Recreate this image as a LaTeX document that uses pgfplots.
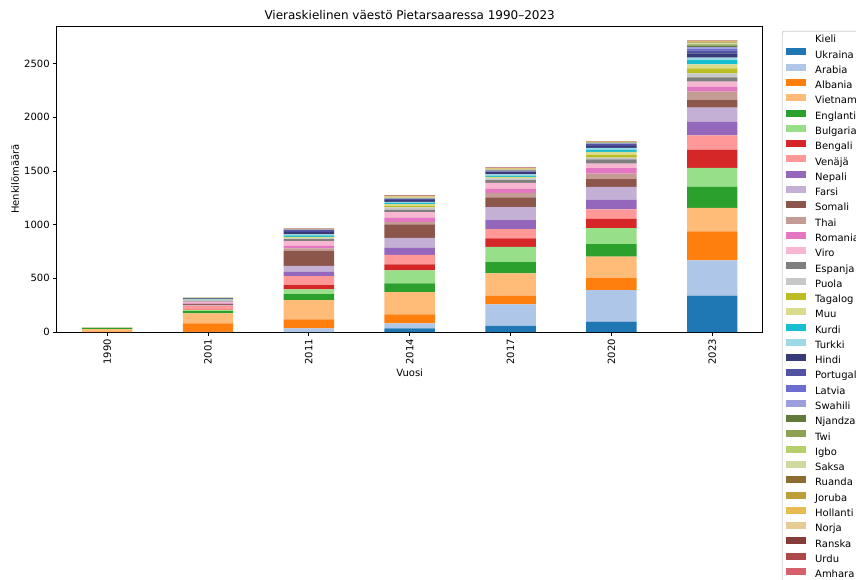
\documentclass[border=0pt]{standalone}
\usepackage{fontspec}
\setmainfont{DejaVu Sans}
\usepackage{pgfplots}
\usepackage{pgfplotstable}
\pgfplotsset{compat=1.18}

\definecolor{cUkraina}{HTML}{1f77b4}
\definecolor{cArabia}{HTML}{aec7e8}
\definecolor{cAlbania}{HTML}{ff7f0e}
\definecolor{cVietnam}{HTML}{ffbb78}
\definecolor{cEnglanti}{HTML}{2ca02c}
\definecolor{cBulgaria}{HTML}{98df8a}
\definecolor{cBengali}{HTML}{d62728}
\definecolor{cVenaja}{HTML}{ff9896}
\definecolor{cNepali}{HTML}{9467bd}
\definecolor{cFarsi}{HTML}{c5b0d5}
\definecolor{cSomali}{HTML}{8c564b}
\definecolor{cThai}{HTML}{c49c94}
\definecolor{cRomania}{HTML}{e377c2}
\definecolor{cViro}{HTML}{f7b6d2}
\definecolor{cEspanja}{HTML}{7f7f7f}
\definecolor{cPuola}{HTML}{c7c7c7}
\definecolor{cTagalog}{HTML}{bcbd22}
\definecolor{cMuu}{HTML}{dbdb8d}
\definecolor{cKurdi}{HTML}{17becf}
\definecolor{cTurkki}{HTML}{9edae5}
\definecolor{cHindi}{HTML}{393b79}
\definecolor{cPortugal}{HTML}{5254a3}
\definecolor{cLatvia}{HTML}{6b6ecf}
\definecolor{cSwahili}{HTML}{9c9ede}
\definecolor{cNjandza}{HTML}{637939}
\definecolor{cTwi}{HTML}{8ca252}
\definecolor{cIgbo}{HTML}{b5cf6b}
\definecolor{cSaksa}{HTML}{cedb9c}
\definecolor{cRuanda}{HTML}{8c6d31}
\definecolor{cJoruba}{HTML}{bd9e39}
\definecolor{cHollanti}{HTML}{e7ba52}
\definecolor{cNorja}{HTML}{e7cb94}
\definecolor{cRanska}{HTML}{843c39}
\definecolor{cUrdu}{HTML}{ad494a}
\definecolor{cAmhara}{HTML}{d6616b}
\definecolor{legframe}{HTML}{cccccc}

\pgfplotstableread{
x Ukraina Arabia Albania Vietnam Englanti Bulgaria Bengali Venaja Nepali Farsi Somali Thai Romania Viro Espanja Puola Tagalog Muu Kurdi Turkki Hindi Portugal Latvia Swahili Njandza Twi Igbo Saksa Ruanda Joruba Hollanti Norja Ranska Urdu Amhara
0 0 0 2 26 10 3 0 2 0 0 0 0 0 0 0 0 0 0 0 0 0 0 0 0 0 0 0 0 0 0 0 0 0 0 0
1 0 2 79 93 21 8 4 38 2 6 7 5 8 9 8 6 1 5 2 3 6 5 0 0 0 0 0 2 0 0 1 2 0 0 0
2 0 34 84 180 55 44 40 84 40 56 136 25 25 44 18 6 8 8 12 10 24 16 2 2 0 1 0 3 1 0 1 5 2 1 0
3 34 47 84 207 81 121 56 89 65 93 125 24 37 53 22 22 15 16 12 9 16 9 3 3 2 2 2 4 3 2 3 6 3 2 2
4 56 202 80 208 105 143 77 87 84 121 90 43 37 56 25 16 8 8 10 13 19 8 4 4 3 2 2 3 3 2 3 4 3 2 2
5 96 295 111 199 118 148 87 87 93 118 71 53 50 43 38 18 22 30 22 16 18 16 6 4 3 2 2 2 1 1 1 2 2 1 1
6 340 327 270 219 199 173 171 133 127 131 74 74 47 46 41 37 47 37 40 22 41 28 16 14 14 10 8 10 4 5 4 4 2 2 2
}\data

\begin{document}
\begin{tikzpicture}
\begin{axis}[
  at={(0pt,0pt)}, anchor=south west,
  scale only axis, width=706pt, height=306pt,
  ybar stacked, bar width=0.5,
  xmin=-0.5, xmax=6.5, ymin=0, ymax=2850,
  xtick={0,1,2,3,4,5,6},
  xticklabels={1990,2001,2011,2014,2017,2020,2023},
  x tick label style={rotate=90, anchor=east},
  ytick={0,500,1000,1500,2000,2500},
  tick pos=left, tick align=outside, major tick length=3.5pt,
  tick style={black, line width=0.8pt},
  axis line style={black, line width=0.8pt},
  ticklabel style={font=\fontsize{10}{12}\selectfont},
  /pgf/number format/assume math mode=true,
  /pgf/number format/1000 sep={},
  title={Vieraskielinen väestö Pietarsaaressa 1990–2023},
  title style={font=\fontsize{12}{14}\selectfont, at={(axis description cs:0.5,1)}, anchor=base, yshift=1pt},
  xlabel={Vuosi}, ylabel={Henkilömäärä},
  label style={font=\fontsize{10}{12}\selectfont},
  xlabel style={at={(axis description cs:0.5,-0.134)}, anchor=center},
  ylabel style={at={(axis description cs:-0.059,0.5)}, anchor=center},
  legend style={at={(1.027,0.984)}, anchor=north west, draw=legframe, line width=0.8pt,
    rounded corners=2pt, font=\fontsize{10}{12}\selectfont,
    inner xsep=4pt, inner ysep=4pt, row sep=3.18pt,
    nodes={inner sep=0pt, text height=7.5pt, text depth=2.5pt}},
  legend cell align=left,
  legend entries={Kieli,Ukraina,Arabia,Albania,Vietnam,Englanti,Bulgaria,Bengali,Venäjä,Nepali,Farsi,Somali,Thai,Romania,Viro,Espanja,Puola,Tagalog,Muu,Kurdi,Turkki,Hindi,Portugal,Latvia,Swahili,Njandza,Twi,Igbo,Saksa,Ruanda,Joruba,Hollanti,Norja,Ranska,Urdu,Amhara},
]
\addlegendimage{legend image code/.code={\path[draw=none, fill=none] (0pt,3.6pt) -- (26.7pt,3.6pt);}}
\pgfplotsinvokeforeach{Ukraina,Arabia,Albania,Vietnam,Englanti,Bulgaria,Bengali,Venaja,Nepali,Farsi,Somali,Thai,Romania,Viro,Espanja,Puola,Tagalog,Muu,Kurdi,Turkki,Hindi,Portugal,Latvia,Swahili,Njandza,Twi,Igbo,Saksa,Ruanda,Joruba,Hollanti,Norja,Ranska,Urdu,Amhara}{
  \addplot[fill=c#1, draw=none,
    legend image code/.code={\fill[c#1, sharp corners] (0pt,0.1pt) rectangle (20pt,7.1pt); \path[draw=none, fill=none] (0pt,3.6pt) -- (29pt,3.6pt);}]
    table[x=x, y=#1] {\data};
}
\end{axis}
\pgfresetboundingbox
\path[use as bounding box] (-56.7pt,-247pt) rectangle (799.3pt,332pt);
\end{tikzpicture}
\end{document}
